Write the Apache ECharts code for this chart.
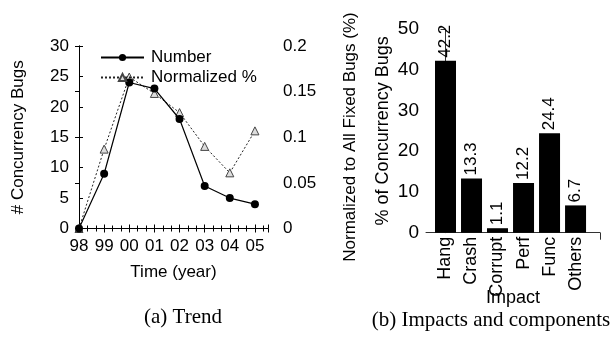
<!DOCTYPE html>
<html>
<head>
<meta charset="utf-8">
<script src="https://cdn.jsdelivr.net/npm/echarts@6/dist/echarts.min.js"></script>
<style>
html,body{margin:0;padding:0;background:#fff;}
#c{width:613px;height:339px;}
</style>
</head>
<body>
<div id="c"></div>
<script>
const years = ['98','99','00','01','02','03','04','05'];
const numberBugs = [0, 9, 24, 23, 18, 7, 5, 4];
const normalizedPct = [0, 0.087, 0.166, 0.148, 0.127, 0.09, 0.061, 0.107];
const impacts = ['Hang','Crash','Corrupt','Perf','Func','Others'];
const impactPct = [42.2, 13.3, 1.1, 12.2, 24.4, 6.7];
const leftTicks = [0, 5, 10, 15, 20, 25, 30];
const rightTicks = [0, 0.05, 0.1, 0.15, 0.2];
const barTicks = [0, 10, 20, 30, 40, 50];

const FONT = 'Liberation Sans';
const black = '#000';
const chart = echarts.init(document.getElementById('c'), null, {renderer: 'canvas'});

const xTrendMax = 7.52;
const xImpMin = -0.75, xImpMax = 5.94;

const option = {
  animation: false,
  backgroundColor: '#fff',
  textStyle: {fontFamily: FONT, color: black},
  grid: [
    {left: 79, top: 46, width: 189, height: 182.5, containLabel: false},
    {left: 426, top: 29, width: 174, height: 203.7, containLabel: false}
  ],
  legend: {
    data: ['Number', 'Normalized %'],
    orient: 'vertical',
    left: 100, top: 49,
    itemWidth: 43, itemHeight: 9, itemGap: 3,
    textStyle: {fontSize: 17, color: black, fontFamily: FONT, padding: [0,0,0,2]},
    padding: 0
  },
  xAxis: [
    {
      gridIndex: 0, type: 'value', min: 0, max: xTrendMax, interval: 1,
      axisLine: {show: true, lineStyle: {color: black, width: 1}},
      axisTick: {show: true, inside: true, length: 4, lineStyle: {color: black}},
      minorTick: {show: true, splitNumber: 3, length: 3, lineStyle: {color: black}},
      splitLine: {show: false},
      axisLabel: {fontSize: 17, color: black, margin: 9, fontFamily: FONT,
        formatter: v => (Number.isInteger(v) && v < years.length) ? years[v] : ''},
      name: 'Time (year)', nameLocation: 'middle', nameGap: 35, nameMoveOverlap: false,
      nameTextStyle: {fontSize: 17, color: black, fontFamily: FONT}
    },
    {
      gridIndex: 0, type: 'value', position: 'top', min: 0, max: xTrendMax, interval: 1,
      axisLine: {show: true, lineStyle: {color: black, width: 1}},
      axisTick: {show: true, inside: true, length: 4, lineStyle: {color: black}},
      minorTick: {show: true, splitNumber: 3, length: 3, lineStyle: {color: black}},
      splitLine: {show: false},
      axisLabel: {show: false}
    },
    {
      gridIndex: 1, type: 'value', min: xImpMin, max: xImpMax,
      axisLine: {show: true, lineStyle: {color: '#333', width: 1}},
      axisTick: {show: true, customValues: [xImpMax], length: 7, lineStyle: {color: '#333'}},
      splitLine: {show: false},
      axisLabel: {customValues: [0,1,2,3,4,5], rotate: 90, fontSize: 18, color: black, margin: 4, fontFamily: FONT,
        formatter: v => impacts[Math.round(v)] || ''},
      name: 'Impact', nameLocation: 'middle', nameGap: 56, nameMoveOverlap: false,
      nameTextStyle: {fontSize: 18, color: black, fontFamily: FONT}
    }
  ],
  yAxis: [
    {
      gridIndex: 0, type: 'value', position: 'left', min: leftTicks[0], max: leftTicks[leftTicks.length-1], interval: 5,
      axisLine: {show: true, lineStyle: {color: black, width: 1}},
      axisTick: {show: true, inside: true, length: 4, lineStyle: {color: black}},
      splitLine: {show: false},
      axisLabel: {fontSize: 17, color: black, margin: 10, fontFamily: FONT},
      name: '# Concurrency Bugs', nameLocation: 'middle', nameRotate: 90, nameGap: 52, nameMoveOverlap: false,
      nameTextStyle: {fontSize: 17, color: black, fontFamily: FONT}
    },
    {
      gridIndex: 0, type: 'value', position: 'right', min: rightTicks[0], max: rightTicks[rightTicks.length-1], interval: 0.05,
      axisLine: {show: true, lineStyle: {color: black, width: 1}},
      axisTick: {show: true, inside: true, length: 4, lineStyle: {color: black}},
      splitLine: {show: false},
      axisLabel: {fontSize: 17, color: black, margin: 15, fontFamily: FONT}
    },
    {
      gridIndex: 1, type: 'value', position: 'left', min: barTicks[0], max: barTicks[barTicks.length-1], interval: 10,
      axisLine: {show: true, lineStyle: {color: '#333', width: 1}},
      axisTick: {show: true, inside: false, length: 5, lineStyle: {color: '#333'}},
      splitLine: {show: false},
      axisLabel: {fontSize: 19, color: black, margin: 7, fontFamily: FONT},
      name: '% of Concurrency Bugs', nameLocation: 'middle', nameRotate: 90, nameGap: 34, nameMoveOverlap: false,
      nameTextStyle: {fontSize: 18, color: black, fontFamily: FONT}
    }
  ],
  series: [
    {
      name: 'Normalized %', type: 'line', xAxisIndex: 0, yAxisIndex: 1,
      data: normalizedPct.map((v, i) => [i, v]),
      symbol: 'triangle', symbolSize: 8, showSymbol: true,
      lineStyle: {color: '#222', width: 1, type: [2, 2]},
      itemStyle: {color: '#ddd', borderColor: '#444', borderWidth: 1},
      z: 2
    },
    {
      name: 'Number', type: 'line', xAxisIndex: 0, yAxisIndex: 0,
      data: numberBugs.map((v, i) => [i, v]),
      symbol: 'circle', symbolSize: 8, showSymbol: true,
      lineStyle: {color: black, width: 1.2},
      itemStyle: {color: black},
      z: 3
    },
    {
      name: 'Impact', type: 'bar', xAxisIndex: 2, yAxisIndex: 2,
      data: impactPct.map((v, i) => [i, v]),
      barWidth: 21,
      itemStyle: {color: black},
      label: {
        show: true, position: 'top', rotate: 90, align: 'left', verticalAlign: 'middle',
        distance: 3, fontSize: 17, color: black, fontFamily: FONT,
        formatter: p => p.value[1].toFixed(1)
      }
    }
  ],
  graphic: [
    {type: 'text', x: 350, y: 137, rotation: Math.PI / 2,
      style: {text: 'Normalized to All Fixed Bugs (%)', font: '17px "Liberation Sans"', fill: black, align: 'center', verticalAlign: 'middle'}},
    {type: 'text', x: 183, y: 317,
      style: {text: '(a) Trend', font: '21px "Liberation Serif"', fill: black, align: 'center', verticalAlign: 'middle'}},
    {type: 'text', x: 491, y: 320,
      style: {text: '(b) Impacts and components', font: '21px "Liberation Serif"', fill: black, align: 'center', verticalAlign: 'middle'}}
  ]
};
chart.setOption(option);
</script>
</body>
</html>
